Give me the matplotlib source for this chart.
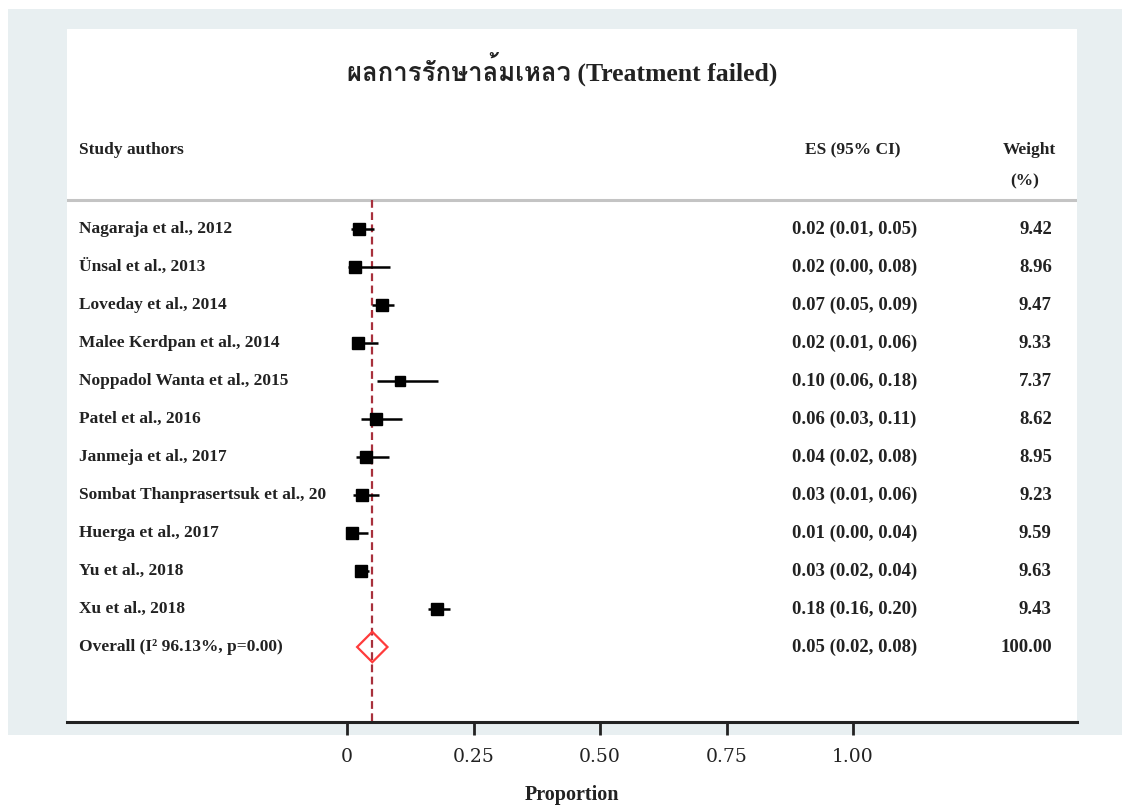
"""Forest plot: treatment failed proportions."""

import matplotlib
matplotlib.use("Agg")
import matplotlib.pyplot as plt
from matplotlib import font_manager
from matplotlib.ft2font import FT2Font
from matplotlib.patches import Rectangle, Polygon

# --- data -------------------------------------------------------------
studies = [
    "Nagaraja et al., 2012",
    "Ünsal et al., 2013",
    "Loveday et al., 2014",
    "Malee Kerdpan et al., 2014",
    "Noppadol Wanta et al., 2015",
    "Patel et al., 2016",
    "Janmeja et al., 2017",
    "Sombat Thanprasertsuk et al., 20",
    "Huerga et al., 2017",
    "Yu et al., 2018",
    "Xu et al., 2018",
]
es = [0.024, 0.016, 0.069, 0.021, 0.104, 0.058, 0.038, 0.030, 0.010, 0.028, 0.177]
lo = [0.008, 0.001, 0.050, 0.010, 0.060, 0.028, 0.018, 0.012, 0.001, 0.020, 0.160]
hi = [0.054, 0.084, 0.092, 0.061, 0.180, 0.108, 0.083, 0.064, 0.042, 0.044, 0.204]
weights = [9.42, 8.96, 9.47, 9.33, 7.37, 8.62, 8.95, 9.23, 9.59, 9.63, 9.43]

overall_es, overall_lo, overall_hi = 0.05, 0.02, 0.08
overall_label = "Overall (I² 96.13%, p=0.00)"
overall_weight = 100.00

ticks = [0, 0.25, 0.50, 0.75, 1.00]
tick_labels = ["0", "0.25", "0.50", "0.75", "1.00"]
title = "ผลการรักษาล้มเหลว (Treatment failed)"


def find_thai_font():
    for f in font_manager.fontManager.ttflist:
        try:
            if 0x0E1C in FT2Font(f.fname).get_charmap():
                return f.name
        except Exception:
            pass
    return "DejaVu Sans"


thai = find_thai_font()
serif = ["Liberation Serif", "DejaVu Serif"]
BG = "#e8eff1"
INK = "#222222"

fig = plt.figure(figsize=(11.22, 8.05), dpi=100)
fig.patch.set_facecolor("white")
fig.patches.append(Rectangle((8 / 1122, 70 / 805), 1114 / 1122, 726 / 805,
                             transform=fig.transFigure, facecolor=BG,
                             edgecolor="none", zorder=-10))

ax = fig.add_axes([67 / 1122, 83 / 805, 1010 / 1122, 693 / 805])
ax.set_facecolor("white")
ax.set_xlim((67 - 347) / 506, (1077 - 347) / 506)
ax.set_ylim((722 - 229) / 38, (29 - 229) / 38)

for s in ("top", "left", "right"):
    ax.spines[s].set_visible(False)
ax.spines["bottom"].set_linewidth(2.2)
ax.spines["bottom"].set_color(INK)
ax.set_yticks([])
ax.set_xticks(ticks)
ax.set_xticklabels(tick_labels, family="DejaVu Serif", fontsize=13.5, color=INK)
ax.tick_params(axis="x", length=9.5, width=2, pad=9, color=INK)
ax.set_xlabel("Proportion", family=serif, fontweight="bold", fontsize=14.5,
              labelpad=14, color=INK)

rows = list(range(len(studies)))
overall_row = len(studies)

# header
ax.axhline(-0.76, color="#c4c4c4", lw=2.2, zorder=1)
ax.text(0.425, -4.2, title, family=["Liberation Serif", thai], fontweight="bold",
        fontsize=18.5, ha="center", va="center", color=INK)
hdr = dict(family=serif, fontweight="bold", fontsize=12.5, va="center", color=INK)
num = dict(hdr, fontsize=13.5)
ax.text(-0.530, -2.08, "Study authors", ha="left", **hdr)
ax.text(1.0, -2.08, "ES (95% CI)", ha="center", **hdr)
ax.text(1.401, -2.08, "Weight", ha="right", **hdr)
ax.text(1.34, -1.24, "(%)", ha="center", **hdr)

# reference line at overall estimate
ax.plot([overall_es, overall_es], [-0.76, (722 - 229) / 38], color="#a8303c",
        lw=1.6, ls=(0, (3.5, 2)), zorder=2)

# study rows
for r, name, e, l, h, w in zip(rows, studies, es, lo, hi, weights):
    ax.plot([l, h], [r, r], color="black", lw=1.8, zorder=3, solid_capstyle="butt")
    ax.plot(e, r, marker="s", color="black", ms=2.85 * w ** 0.5, zorder=4)
    ax.text(-0.530, r, name, ha="left", **hdr)
    ax.text(1.003, r, f"{e:.2f} ({l:.2f}, {h:.2f})", ha="center", **num)
    ax.text(1.393, r, f"{w:.2f}", ha="right", **num)

# overall diamond
ax.add_patch(Polygon([(overall_lo, overall_row), (overall_es, overall_row - 0.4),
                      (overall_hi, overall_row), (overall_es, overall_row + 0.4)],
                     closed=True, facecolor="none", edgecolor="#ff3b3b", lw=1.6, zorder=5))
ax.text(-0.530, overall_row, overall_label, ha="left", **hdr)
ax.text(1.003, overall_row, f"{overall_es:.2f} ({overall_lo:.2f}, {overall_hi:.2f})",
        ha="center", **num)
ax.text(1.393, overall_row, f"{overall_weight:.2f}", ha="right", **num)

fig.savefig("out.png", dpi=100)
